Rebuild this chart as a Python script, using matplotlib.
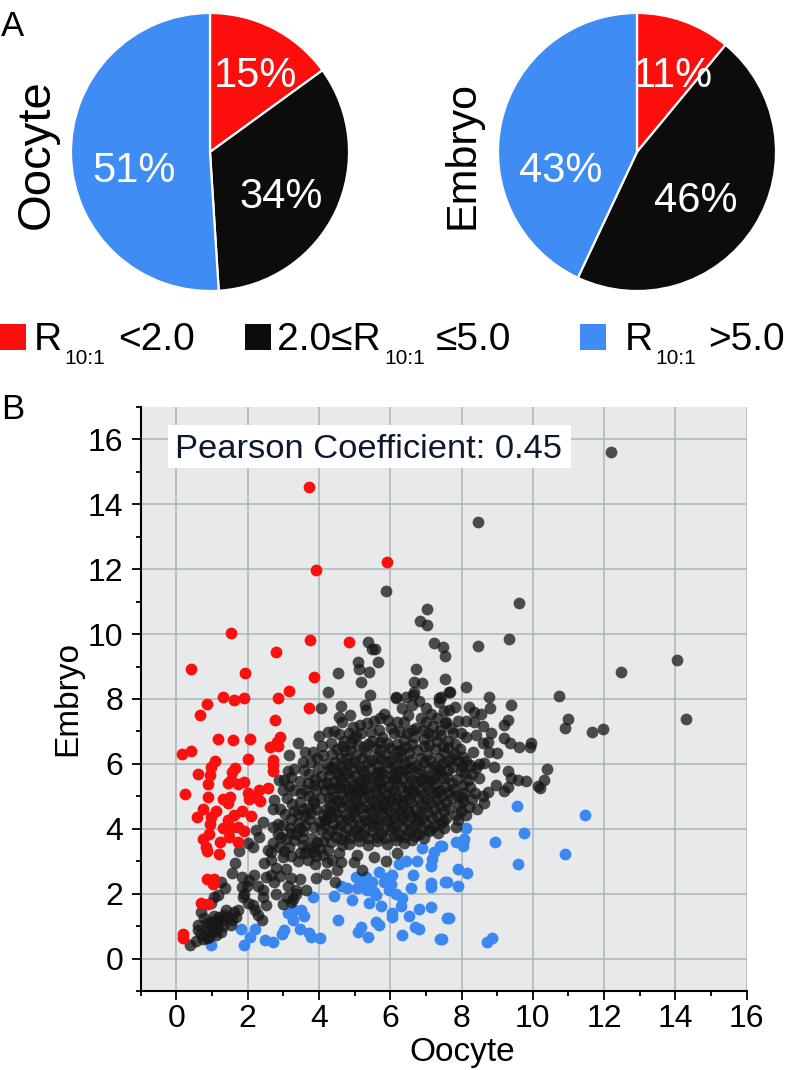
import matplotlib
matplotlib.use('Agg')
import matplotlib.pyplot as plt
from matplotlib.patches import Rectangle

plt.rcParams['font.family'] = ['Liberation Sans', 'DejaVu Sans']

W, H = 793, 1070

# pie values, clockwise from the top
pie_oocyte = [15, 34, 51]
pie_embryo = [11, 46, 43]
pie_colors = ['#fe0d0d', '#0c0c0c', '#3f8cf5']

# scatter (oocyte, embryo)
red_pts = [
    (3.73, 14.54), (5.91, 12.23), (3.93, 11.99), (1.53, 10.02), (3.75, 9.82), (4.84, 9.75), (2.79, 9.46),
    (0.42, 8.92), (1.93, 8.81), (3.87, 8.69), (1.32, 8.05), (1.62, 7.97), (1.90, 8.02), (2.86, 8.02),
    (3.17, 8.25), (0.86, 7.84), (0.66, 7.51), (3.72, 7.71), (2.76, 7.36), (1.18, 6.76), (1.60, 6.73),
    (2.06, 6.78), (2.90, 6.83), (2.81, 6.68), (2.62, 6.53), (2.84, 6.55), (0.15, 6.30), (0.42, 6.40),
    (2.00, 6.15), (1.09, 6.10), (0.97, 5.89), (0.95, 5.65), (0.62, 5.69), (1.65, 5.86), (1.56, 5.76),
    (0.90, 5.38), (1.44, 5.40), (1.53, 5.50), (1.90, 5.43), (1.72, 5.38), (2.71, 6.12), (2.71, 5.96),
    (2.70, 5.79), (0.25, 5.06), (0.90, 4.99), (1.30, 4.93), (1.50, 4.98), (1.44, 4.78), (2.00, 5.09),
    (2.04, 4.93), (2.14, 4.98), (2.34, 4.86), (2.32, 5.19), (2.58, 5.27), (0.74, 4.60), (0.57, 4.35),
    (1.11, 4.55), (0.97, 4.37), (0.95, 4.16), (1.84, 4.55), (1.62, 4.42), (2.09, 4.39), (1.44, 4.27),
    (1.39, 4.06), (1.53, 4.01), (1.30, 4.01), (1.72, 4.06), (1.90, 3.94), (0.92, 3.85), (0.76, 3.70),
    (0.83, 3.44), (0.86, 3.32), (1.23, 3.58), (1.48, 3.75), (1.72, 3.60), (1.20, 3.22), (0.87, 2.45),
    (1.06, 2.44), (1.04, 2.29), (0.69, 1.71), (0.88, 1.68), (0.20, 0.77), (0.18, 0.62),
]

blue_pts = [
    (9.57, 4.71), (11.45, 4.42), (9.74, 3.88), (8.94, 3.60), (10.91, 3.21), (9.58, 2.90), (8.13, 4.01),
    (8.08, 3.70), (7.85, 3.60), (8.03, 3.60), (8.05, 3.46), (7.45, 3.46), (7.89, 2.75), (8.15, 2.63),
    (7.58, 2.36), (7.91, 2.23), (7.66, 1.24), (7.45, 0.59), (8.71, 0.52), (8.85, 0.63), (7.41, 3.47),
    (7.22, 3.29), (7.17, 3.08), (7.15, 2.86), (6.88, 3.41), (6.75, 3.01), (6.43, 3.00), (6.24, 2.90),
    (6.63, 2.57), (7.55, 2.36), (7.13, 2.34), (7.15, 2.21), (6.58, 2.19), (6.05, 2.57), (5.91, 2.47),
    (5.82, 2.36), (6.01, 2.31), (5.96, 2.11), (6.15, 2.00), (6.33, 1.88), (6.31, 1.61), (5.68, 2.67),
    (5.31, 2.52), (5.03, 2.50), (5.17, 2.31), (5.49, 2.36), (5.07, 2.16), (5.35, 2.11), (5.54, 2.06),
    (5.59, 1.95), (4.61, 2.23), (4.79, 2.19), (4.42, 1.93), (3.82, 1.89), (4.93, 1.82), (5.40, 1.70),
    (5.75, 1.62), (6.80, 1.54), (7.15, 1.59), (6.05, 1.39), (6.05, 1.28), (6.54, 1.31), (7.59, 1.25),
    (4.53, 1.18), (5.59, 1.13), (5.68, 1.03), (5.17, 0.98), (5.09, 0.82), (6.69, 0.98), (6.81, 0.90),
    (5.38, 0.65), (6.32, 0.72), (7.41, 0.59), (3.49, 1.51), (3.30, 1.49), (3.12, 1.39), (3.26, 1.18),
    (3.58, 1.32), (3.46, 0.90), (3.72, 0.80), (3.77, 0.67), (4.02, 0.62), (3.02, 0.89), (2.95, 0.77),
    (2.70, 0.51), (2.48, 0.57), (2.20, 0.92), (2.07, 0.67), (1.90, 0.43), (1.81, 0.92), (0.97, 0.43),
]

black_outer = [
    (12.20, 15.62), (8.47, 13.45), (5.87, 11.33), (9.60, 10.97), (7.03, 10.76), (6.84, 10.40), (7.03, 10.27),
    (9.33, 9.84), (7.22, 9.74), (5.37, 9.76), (8.47, 9.63), (7.47, 9.61), (5.50, 9.53),
    (5.57, 9.54), (7.54, 9.33), (14.05, 9.19), (5.09, 9.13), (5.65, 9.15), (5.13, 8.94),
    (6.73, 8.93), (12.47, 8.84), (5.40, 8.84), (4.53, 8.79), (7.55, 8.61), (6.66, 8.53),
    (5.19, 8.51), (6.90, 8.48), (8.13, 8.38), (7.69, 8.22), (6.66, 8.22), (4.26, 8.21), (7.65, 8.22),
    (5.43, 8.12), (10.74, 8.08), (6.15, 8.07), (6.43, 8.07), (6.64, 8.12), (7.36, 8.04), (8.78, 8.05),
    (7.43, 8.07), (9.39, 7.81), (8.80, 7.71), (7.83, 7.76), (8.22, 7.74), (8.36, 7.61), (8.55, 7.55),
    (7.66, 7.66), (14.30, 7.37), (10.98, 7.37), (10.91, 7.11), (11.66, 6.99), (11.96, 7.06), (9.30, 7.35),
    (9.18, 7.19), (8.59, 7.16), (8.34, 7.30), (7.89, 7.33), (8.13, 7.33), (7.57, 7.30), (8.83, 6.94),
    (8.41, 6.89), (7.99, 6.94), (8.13, 6.83), (9.20, 6.81), (9.37, 6.63), (9.62, 6.51), (9.95, 6.65),
    (9.93, 6.51), (8.73, 6.68), (8.59, 6.63), (8.99, 6.35), (8.78, 6.37), (8.31, 6.37), (8.03, 6.22),
    (8.64, 6.03), (8.50, 6.01), (8.92, 5.91), (10.40, 5.84), (9.30, 5.78), (8.41, 5.86), (8.50, 5.57),
    (8.17, 5.50), (9.39, 5.55), (9.59, 5.50), (9.81, 5.47), (10.30, 5.49), (10.14, 5.31), (10.20, 5.27),
    (8.97, 5.34), (9.30, 5.29), (9.20, 5.17), (8.73, 5.12), (8.38, 5.11), (8.08, 5.09), (8.59, 5.00),
    (8.62, 4.78), (8.44, 4.60), (7.94, 4.73), (8.13, 4.42), (7.85, 4.42), (7.89, 4.27), (7.85, 4.06),
    (7.52, 4.01),
]

black_low = [
    (0.39, 0.43), (0.55, 0.53), (0.74, 0.59), (0.92, 0.67), (1.11, 0.72), (1.25, 0.82), (1.02, 0.82),
    (0.86, 0.92), (0.60, 1.03), (0.78, 1.26), (0.69, 1.44), (1.06, 1.90), (1.18, 1.95), (0.97, 1.70),
    (1.02, 1.03), (1.11, 1.18), (1.39, 1.49), (1.20, 1.28), (1.53, 1.03), (1.44, 1.28), (1.72, 1.49),
    (1.67, 1.28), (2.40, 1.20), (2.22, 1.49), (2.51, 1.64), (2.42, 1.90), (1.86, 1.90), (1.90, 2.00),
    (1.83, 2.21), (1.37, 2.19), (1.25, 2.36), (1.56, 2.64), (1.64, 2.93), (1.83, 2.52), (2.18, 2.57),
    (2.05, 2.42), (2.28, 2.24), (2.51, 2.52), (2.65, 2.57), (2.79, 2.00), (2.46, 2.93), (2.65, 3.03),
    (2.65, 3.29), (2.56, 3.34), (1.76, 3.32), (2.14, 3.44), (2.00, 3.55), (2.23, 3.96), (2.42, 4.21),
    (2.32, 3.75), (2.70, 4.62), (2.74, 4.88), (2.88, 5.50), (3.21, 5.60), (3.02, 5.50), (3.16, 6.27),
    (3.40, 6.65), (4.07, 7.71), (4.63, 7.79), (5.28, 7.81), (4.86, 7.50), (4.56, 7.43), (4.65, 7.30),
    (4.00, 6.86), (4.26, 6.97), (4.33, 6.63), (4.84, 6.96), (5.15, 7.19), (5.32, 7.66), (5.82, 7.55),
    (5.93, 7.35), (6.19, 7.30), (6.38, 7.30), (6.15, 8.02), (6.33, 7.71), (6.61, 7.81), (7.13, 7.55),
    (6.85, 7.40), (6.99, 7.30), (7.36, 7.91), (7.55, 7.25), (4.89, 6.63), (5.26, 6.53), (5.45, 6.99),
    (5.68, 7.04), (5.92, 6.63), (6.29, 6.42), (6.38, 6.73), (6.66, 6.83), (6.94, 6.78), (2.84, 4.16),
    (2.88, 3.44), (2.98, 3.13), (3.07, 2.77), (3.21, 2.47), (3.46, 2.45), (3.37, 2.11), (3.63, 2.11),
    (3.91, 2.47), (3.26, 1.85), (3.00, 1.68), (3.21, 1.75), (4.19, 2.62), (4.44, 2.36), (4.51, 2.72),
    (4.98, 2.98), (5.21, 2.72), (5.87, 3.01), (5.54, 3.13), (6.19, 3.24), (5.07, 3.19), (4.61, 2.98),
    (4.24, 2.98), (3.86, 3.44), (3.61, 3.24), (3.30, 3.65), (2.93, 3.75), (3.40, 4.47), (3.86, 4.78),
    (4.19, 4.62), (3.49, 5.09), (3.30, 5.19), (3.68, 5.40), (3.58, 5.81), (3.54, 6.06), (3.82, 6.37),
    (4.37, 5.89), (3.96, 5.86), (4.61, 6.17), (4.23, 5.40), (3.05, 4.45), (3.18, 4.02), (3.55, 3.92),
    (3.72, 4.31), (3.10, 4.95), (4.05, 3.95), (4.02, 3.42), (4.33, 3.58), (4.40, 4.18), (4.55, 3.24),
    # lower left cluster
    (0.70, 0.75), (0.85, 0.62), (0.62, 0.88), (0.95, 0.85), (1.15, 0.92), (1.30, 1.00), (0.98, 1.12),
    (0.85, 1.10), (1.28, 1.18), (1.05, 1.30), (1.35, 1.35), (1.55, 1.20), (1.62, 1.42), (1.15, 1.05),
    (2.02, 1.72), (2.15, 1.65), (2.30, 1.35), (1.98, 2.25), (2.42, 2.10), (2.75, 2.35), (2.92, 2.55),
    (3.12, 2.25), (3.35, 1.98), (3.10, 1.90), (2.80, 2.80), (2.70, 3.55), (2.85, 3.85), (2.72, 4.05),
    # middle left, dense with gaps
    (3.02, 3.30), (3.15, 3.45), (3.22, 3.15), (3.40, 3.00), (3.55, 3.50), (3.70, 3.05), (3.80, 3.72),
    (3.92, 3.15), (3.35, 3.85), (3.48, 3.25), (3.88, 2.92), (4.12, 3.20), (4.25, 3.35), (4.38, 3.05),
    (4.65, 3.50), (4.48, 3.75), (4.22, 3.82), (4.00, 4.22), (3.85, 4.05), (3.62, 4.12), (3.40, 4.18),
    (3.22, 4.30), (3.00, 4.12), (2.90, 4.62), (2.98, 5.18), (3.15, 5.32), (3.25, 4.75), (3.48, 4.82),
    (3.68, 4.65), (3.72, 5.02), (3.92, 5.18), (4.05, 4.95), (4.10, 4.42), (4.28, 4.95), (4.18, 5.18),
    (4.35, 5.22), (3.90, 5.52), (4.05, 5.62), (4.28, 5.65), (4.50, 5.72), (3.72, 5.68), (3.78, 6.05),
    (3.95, 6.18), (4.12, 6.28), (4.38, 6.32), (4.52, 6.45), (3.62, 6.38), (3.48, 5.48), (3.30, 5.85),
    (3.12, 5.78), (4.22, 6.00), (4.08, 6.55), (4.70, 6.72), (4.55, 6.92), (4.95, 7.15), (5.05, 6.85),
    (5.35, 7.25), (5.55, 7.32), (5.72, 7.42), (4.42, 7.02), (6.02, 7.10), (6.28, 6.98), (5.48, 6.72),
    (5.78, 6.82), (6.48, 6.95), (6.72, 7.12), (7.20, 7.18), (7.32, 7.42), (7.00, 7.72), (6.80, 7.95),
    (6.50, 7.52), (7.50, 7.62), (7.70, 7.10), (7.82, 6.62), (7.95, 6.45), (8.12, 6.10), (8.25, 5.98),
    (8.02, 5.92), (8.28, 5.68), (8.10, 5.72), (8.25, 5.28), (8.05, 5.35), (8.28, 4.92), (8.05, 4.85),
    (8.22, 4.68), (7.98, 4.55), (8.00, 4.98), (7.88, 5.05),
    # extra fill around the left lobe and upper band
    (3.52, 3.72), (3.68, 3.42), (3.82, 3.28), (4.12, 3.62), (3.95, 3.58), (4.35, 3.92), (4.15, 4.12),
    (3.60, 4.42), (3.22, 3.88), (3.08, 3.68), (3.48, 4.02), (3.78, 4.48), (3.92, 4.62), (4.18, 4.28),
    (4.32, 4.52), (3.55, 4.60), (3.30, 4.55), (3.82, 4.88), (3.60, 5.20), (4.12, 5.38), (3.85, 5.35),
    (4.42, 5.45), (4.28, 5.85), (4.45, 6.05), (4.65, 6.55), (4.88, 6.42), (5.10, 6.58), (5.38, 6.62),
    (5.72, 6.42), (6.00, 6.50), (6.45, 6.52), (6.62, 6.62), (7.08, 6.58), (7.48, 6.55), (7.18, 6.88),
    (5.18, 6.95), (4.95, 6.80), (5.70, 6.68), (6.20, 6.40), (7.62, 6.48), (7.82, 6.30), (7.90, 6.08),
    (6.92, 7.05), (7.42, 6.90),
]

black_core = [
    (4.72, 6.40), (5.04, 6.28), (5.31, 6.36), (5.62, 6.22), (5.87, 6.31), (6.18, 6.20), (6.52, 6.33), (6.76, 6.44),
    (7.02, 6.28), (7.26, 6.47), (7.51, 6.36), (7.72, 6.18), (4.61, 5.92), (4.85, 6.03), (5.12, 5.95), (5.38, 6.07),
    (5.66, 5.93), (5.90, 6.05), (6.14, 5.91), (6.41, 6.02), (6.69, 5.94), (6.96, 6.06), (7.22, 5.95), (7.48, 6.04),
    (7.76, 5.90), (7.98, 5.79), (4.55, 5.62), (4.78, 5.71), (5.02, 5.63), (5.26, 5.74), (5.51, 5.61), (5.77, 5.72),
    (6.01, 5.64), (6.27, 5.75), (6.53, 5.62), (6.80, 5.73), (7.07, 5.64), (7.34, 5.71), (7.60, 5.60), (7.86, 5.53),
    (4.48, 5.28), (4.71, 5.41), (4.95, 5.32), (5.19, 5.43), (5.44, 5.30), (5.70, 5.42), (5.95, 5.33), (6.20, 5.44),
    (6.46, 5.31), (6.73, 5.42), (7.00, 5.34), (7.27, 5.41), (7.53, 5.29), (7.79, 5.24), (4.40, 4.98), (4.64, 5.11),
    (4.88, 5.02), (5.13, 5.14), (5.37, 5.01), (5.63, 5.12), (5.88, 5.03), (6.13, 5.15), (6.39, 5.02), (6.66, 5.13),
    (6.93, 5.04), (7.20, 5.12), (7.46, 5.00), (7.72, 4.94), (4.31, 4.73), (4.56, 4.81), (4.81, 4.72), (5.06, 4.84),
    (5.31, 4.71), (5.56, 4.83), (5.81, 4.73), (6.06, 4.85), (6.32, 4.72), (6.59, 4.83), (6.86, 4.74), (7.13, 4.82),
    (7.39, 4.70), (7.64, 4.63), (4.20, 4.31), (4.47, 4.50), (4.73, 4.42), (4.99, 4.53), (5.24, 4.41), (5.49, 4.54),
    (5.74, 4.43), (6.00, 4.55), (6.25, 4.42), (6.52, 4.53), (6.79, 4.44), (7.06, 4.52), (7.32, 4.40), (7.57, 4.34),
    (4.63, 4.12), (4.90, 4.23), (5.15, 4.11), (5.41, 4.24), (5.66, 4.13), (5.92, 4.25), (6.17, 4.12), (6.44, 4.23),
    (6.71, 4.14), (6.98, 4.22), (7.24, 4.10), (7.48, 4.25), (4.72, 3.81), (4.98, 3.93), (5.24, 3.82), (5.50, 3.94),
    (5.75, 3.83), (6.01, 3.95), (6.27, 3.82), (6.54, 3.93), (6.81, 3.84), (7.08, 3.92), (7.34, 3.86), (4.85, 3.52),
    (5.12, 3.63), (5.38, 3.51), (5.64, 3.62), (5.90, 3.53), (6.15, 3.64), (6.40, 3.55), (6.62, 3.66), (4.82, 5.22),
    (5.22, 5.18), (5.58, 5.26), (6.05, 5.20), (6.35, 5.55), (6.62, 5.21), (5.48, 4.92), (5.83, 4.90), (6.20, 4.94),
    (6.52, 4.93), (5.02, 4.66), (5.42, 4.62), (5.78, 4.60), (6.12, 4.67), (6.46, 4.62), (5.28, 5.52), (5.68, 5.50),
    (6.08, 5.52), (6.44, 5.84), (6.86, 5.50), (5.04, 4.32), (5.52, 4.33), (5.97, 4.30), (6.34, 4.33), (6.75, 4.30),
    (7.30, 5.12), (7.12, 5.50), (7.40, 5.82), (6.94, 6.55), (5.60, 6.50), (6.20, 6.62), (7.30, 6.70), (7.62, 6.70),
    (7.05, 6.95), (7.40, 7.05), (7.75, 6.95), (6.60, 7.05), (6.10, 6.95),
    # second pass over the solid part
    (4.75, 6.14), (4.98, 6.10), (5.22, 6.18), (5.48, 6.12), (5.75, 6.16), (6.02, 6.12), (6.30, 6.17), (6.58, 6.11),
    (6.85, 6.18), (7.12, 6.12), (7.38, 6.17), (7.62, 6.08), (4.68, 5.82), (4.92, 5.86), (5.18, 5.80), (5.44, 5.87),
    (5.70, 5.79), (5.96, 5.88), (6.22, 5.81), (6.56, 5.86), (6.82, 5.83), (7.08, 5.87), (7.34, 5.84), (7.62, 5.80),
    (4.62, 5.50), (4.88, 5.55), (5.14, 5.48), (5.40, 5.56), (5.62, 5.72), (5.82, 5.50), (6.14, 5.58), (6.60, 5.50),
    (6.94, 5.58), (7.22, 5.52), (7.48, 5.55), (7.72, 5.42), (4.58, 5.25), (4.92, 5.18), (5.08, 5.28), (5.32, 5.22),
    (5.78, 5.24), (6.30, 5.28), (6.50, 5.18), (6.84, 5.24), (7.10, 5.22), (7.40, 5.18), (7.62, 5.12), (4.52, 4.90),
    (4.75, 4.92), (5.00, 4.96), (5.24, 4.94), (5.72, 4.96), (5.98, 4.92), (6.32, 4.88), (6.78, 4.95), (7.04, 4.92),
    (7.30, 4.88), (7.56, 4.82), (4.42, 4.62), (4.66, 4.66), (4.92, 4.62), (5.18, 4.64), (5.62, 4.66), (5.92, 4.62),
    (6.28, 4.58), (6.72, 4.62), (6.98, 4.66), (7.24, 4.62), (7.50, 4.55), (4.35, 4.35), (4.58, 4.30), (4.82, 4.34),
    (5.28, 4.28), (5.65, 4.30), (6.10, 4.32), (6.58, 4.36), (6.88, 4.34), (7.18, 4.32), (7.42, 4.18), (4.52, 3.98),
    (4.78, 4.02), (5.05, 3.98), (5.30, 4.02), (5.55, 4.08), (5.82, 4.02), (6.08, 4.04), (6.35, 4.05), (6.60, 4.02),
    (6.88, 4.02), (7.14, 4.00), (4.62, 3.68), (4.88, 3.72), (5.10, 3.78), (5.38, 3.72), (5.62, 3.76), (5.86, 3.72),
    (6.14, 3.78), (6.42, 3.74), (6.70, 3.78), (6.95, 3.72),
]

pct_oocyte = ['15%', '34%', '51%']
pct_embryo = ['11%', '46%', '43%']

x_ticks = [0, 2, 4, 6, 8, 10, 12, 14, 16]
y_ticks = [0, 2, 4, 6, 8, 10, 12, 14, 16]
x_minor = [-1, 1, 3, 5, 7, 9, 11, 13, 15]
y_minor = [-1, 1, 3, 5, 7, 9, 11, 13, 15, 17]


def ax_px(fig, left, top, right, bottom):
    # axes box given in image pixels
    return fig.add_axes([left/W, 1-bottom/H, (right-left)/W, (bottom-top)/H])


def ptext(fig, x, y, s, size, **kw):
    # text placed in image pixels, y is the baseline
    kw.setdefault('va', 'baseline')
    return fig.text(x/W, 1-y/H, s, fontsize=size, **kw)


fig = plt.figure(figsize=(W/100, H/100), dpi=100)

# pies
for cx, vals, pct, pos in [(210, pie_oocyte, pct_oocyte, [(256, 70), (281, 191), (134, 165)]),
                           (637, pie_embryo, pct_embryo, [(673, 70), (696, 195), (561, 165)])]:
    ax = ax_px(fig, cx-140, 12, cx+140, 292)
    ax.pie(vals, colors=pie_colors, startangle=90, counterclock=False, radius=1.0,
           wedgeprops={'edgecolor': 'white', 'linewidth': 1.6})
    ax.set_xlim(-1.007, 1.007)
    ax.set_ylim(-1.007, 1.007)
    for (tx, ty), s in zip(pos, pct):
        ptext(fig, tx, ty+17, s, 30, color='white', ha='center', zorder=5)

fig.text(37/W, 1-154/H, 'Oocyte', fontsize=34, rotation=90, ha='center', va='center')
fig.text(463/W, 1-155/H, 'Embryo', fontsize=31, rotation=90, ha='center', va='center')
ptext(fig, 1, 36, 'A', 25)
ptext(fig, 1, 419, 'B', 25)

# legend row
for left, c in [(0, pie_colors[0]), (245, pie_colors[1]), (580, pie_colors[2])]:
    fig.add_artist(Rectangle((left/W, 1-350/H), 26/W, 26/H, transform=fig.transFigure,
                             facecolor=c, edgecolor='none'))
ptext(fig, 34, 350, 'R', 28)
ptext(fig, 64, 364, '10:1', 15)
ptext(fig, 118, 350, '<2.0', 28)
ptext(fig, 277, 350, '2.0≤R', 28)
ptext(fig, 384, 364, '10:1', 15)
ptext(fig, 436, 350, '≤5.0', 28)
ptext(fig, 625, 350, 'R', 28)
ptext(fig, 655, 364, '10:1', 15)
ptext(fig, 708, 350, '>5.0', 28)

# scatter
ax = ax_px(fig, 140.7, 407, 746.7, 991)
ax.set_facecolor('#e7e9eb')
ax.set_xlim(-1, 16)
ax.set_ylim(-1, 17)
ax.set_axisbelow(True)
ax.grid(True, which='major', color='#aab5b8', linewidth=1.1)

sz = 72
ax.scatter(*zip(*blue_pts), s=sz, color='#3b88f0', linewidths=0, zorder=3)
ax.scatter(*zip(*(black_outer+black_low+black_core)), s=sz, color='#161616', alpha=0.75, linewidths=0, zorder=4)
ax.scatter(*zip(*red_pts), s=sz, color='#fb0f0f', linewidths=0, zorder=5)

ax.set_xticks(x_ticks)
ax.set_yticks(y_ticks)
ax.set_xticks(x_minor, minor=True)
ax.set_yticks(y_minor, minor=True)
ax.tick_params(axis='both', which='major', length=6.5, width=1.3, labelsize=23, pad=3)
ax.tick_params(axis='y', which='major', pad=6)
ax.tick_params(axis='both', which='minor', length=3.5, width=1.3)
for s in ['top', 'right']:
    ax.spines[s].set_visible(False)
for s in ['left', 'bottom']:
    ax.spines[s].set_linewidth(1.5)
ax.set_xlabel('Oocyte', fontsize=24, labelpad=2)
ax.xaxis.set_label_coords((462-140.7)/606, -0.078)
ax.set_ylabel('Embryo', fontsize=24)
ax.yaxis.set_label_coords(-0.094, 0.5)

fig.add_artist(Rectangle((168/W, 1-468/H), 403/W, 43/H, transform=fig.transFigure,
                         facecolor='white', edgecolor='none', zorder=6))
ptext(fig, 175, 458, 'Pearson Coefficient: 0.45', 24.8, color='#0c1a2b', zorder=7)

fig.savefig('out.png', dpi=100)
